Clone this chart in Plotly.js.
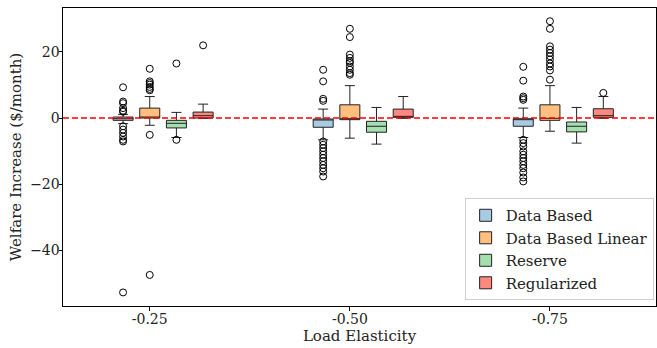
<!DOCTYPE html>
<html>
<head>
<meta charset="utf-8">
<script src="https://cdn.plot.ly/plotly-3.0.1.min.js"></script>
<style>html,body{margin:0;padding:0;background:#fff;}#chart{width:657px;height:348px;}</style>
</head>
<body>
<div id="chart"></div>
<script>
// Categories (load elasticity groups)
const groups = ['-0.25', '-0.50', '-0.75'];
const seriesNames = ['Data Based', 'Data Based Linear', 'Reserve', 'Regularized'];
const seriesColors = ['#a6cbe3', '#ffc07f', '#a5dfb0', '#ff8880'];

// Box statistics per series, one value per group
const dbLower  = [-1.7, -6.6, -5.9];
const dbQ1     = [-0.7, -2.8, -2.5];
const dbMed    = [-0.2, -0.5, -0.3];
const dbQ3     = [0.3, -0.3, -0.2];
const dbUpper  = [1.1, 2.7, 3.0];

const dblLower = [-2.2, -6.1, -4.0];
const dblQ1    = [0.0, -0.5, -0.7];
const dblMed   = [0.2, -0.2, -0.1];
const dblQ3    = [3.0, 4.0, 4.0];
const dblUpper = [6.5, 9.8, 9.8];

const resLower = [-5.9, -7.9, -7.6];
const resQ1    = [-3.0, -4.3, -4.2];
const resMed   = [-1.6, -2.5, -2.5];
const resQ3    = [-0.7, -1.0, -1.2];
const resUpper = [1.7, 3.2, 3.2];

const regLower = [-0.1, -0.1, -0.1];
const regQ1    = [0.0, 0.2, 0.2];
const regMed   = [0.7, 0.5, 0.7];
const regQ3    = [1.8, 2.7, 2.8];
const regUpper = [4.2, 6.5, 6.5];

// Outliers per series per group
const dbOut = [
  [9.3, 5.0, 4.5, 3.0, 2.2, 1.9, -2.5, -3.5, -4.5, -5.6, -6.6, -7.1, -52.8],
  [14.6, 11.1, 5.8, 5.2, -7.1, -8.1, -9.1, -10.1, -11.1, -12.1, -13.1, -14.2, -15.2, -16.2, -17.7],
  [15.5, 11.3, 6.5, 6.0, 5.5, -6.6, -7.6, -8.6, -10.1, -11.1, -12.1, -13.1, -14.2, -15.2, -16.5, -18.0, -19.2]
];
const dblOut = [
  [14.9, 11.1, 10.6, 10.1, 9.4, 8.8, 8.4, -5.1, -47.5],
  [27.0, 24.5, 19.2, 18.2, 17.2, 16.7, 15.6, 14.6, 13.6, 13.1],
  [29.3, 27.0, 21.7, 20.7, 19.7, 18.7, 17.7, 16.5, 15.6, 14.4, 11.6]
];
const resOut = [
  [16.5, -6.6],
  [],
  []
];
const regOut = [
  [22.0],
  [],
  [7.6]
];

const yTicks = [-40, -20, 0, 20];

const offsets = [-0.1333, 0, 0.1333, 0.2667];
const boxWidth = 0.1;
const stats = [
  [dbLower, dbQ1, dbMed, dbQ3, dbUpper, dbOut],
  [dblLower, dblQ1, dblMed, dblQ3, dblUpper, dblOut],
  [resLower, resQ1, resMed, resQ3, resUpper, resOut],
  [regLower, regQ1, regMed, regQ3, regUpper, regOut]
];

const traces = [];
stats.forEach((s, k) => {
  const xs = groups.map((g, i) => i + offsets[k]);
  traces.push({
    type: 'box',
    name: seriesNames[k],
    x: xs,
    lowerfence: s[0], q1: s[1], median: s[2], q3: s[3], upperfence: s[4],
    width: boxWidth,
    whiskerwidth: 0.5,
    fillcolor: seriesColors[k],
    line: {color: '#222', width: 1},
    boxpoints: false,
    hoverinfo: 'skip'
  });
});
stats.forEach((s, k) => {
  const ox = [], oy = [];
  s[5].forEach((arr, i) => arr.forEach(v => { ox.push(i + offsets[k]); oy.push(v); }));
  traces.push({
    type: 'scatter', mode: 'markers', x: ox, y: oy, showlegend: false,
    marker: {symbol: 'circle-open', size: 7, color: '#000', line: {width: 1, color: '#000'}},
    hoverinfo: 'skip'
  });
});

const font = {family: 'DejaVu Serif, serif', size: 15, color: '#222'};
const tickFont = {family: 'DejaVu Serif, serif', size: 14, color: '#222'};
const layout = {
  width: 657, height: 348,
  margin: {l: 63, r: 1, t: 8, b: 42},
  paper_bgcolor: '#fff', plot_bgcolor: '#fff',
  font: font,
  boxmode: 'overlay',
  showlegend: true,
  xaxis: {
    range: [-0.4335, 2.53],
    tickvals: [0, 1, 2], ticktext: groups,
    ticks: 'outside', ticklen: 3.5, tickcolor: '#000',
    tickfont: tickFont, ticklabelstandoff: -3,
    showline: true, linecolor: '#000', linewidth: 1, mirror: true,
    showgrid: false, zeroline: false,
    title: {text: 'Load Elasticity', font: font, standoff: 2}
  },
  yaxis: {
    range: [-56.9, 33.3],
    tickvals: yTicks,
    ticks: 'outside', ticklen: 3.5, tickcolor: '#000',
    tickfont: tickFont, ticklabelstandoff: -4,
    showline: true, linecolor: '#000', linewidth: 1, mirror: true,
    showgrid: false, zeroline: false,
    title: {text: 'Welfare Increase ($/month)', font: font, standoff: 4}
  },
  legend: {
    x: 0.996, y: 0.02, xanchor: 'right', yanchor: 'bottom',
    bgcolor: 'rgba(255,255,255,0.9)', bordercolor: '#d0d0d0', borderwidth: 1,
    font: font, traceorder: 'normal'
  },
  shapes: [{
    type: 'line', xref: 'paper', x0: 0, x1: 1, yref: 'y', y0: 0, y1: 0,
    line: {color: '#ff0000', width: 1.5, dash: '6px,3px'}, layer: 'above'
  }]
};

Plotly.newPlot('chart', traces, layout, {displayModeBar: false, staticPlot: true});
</script>
</body>
</html>
